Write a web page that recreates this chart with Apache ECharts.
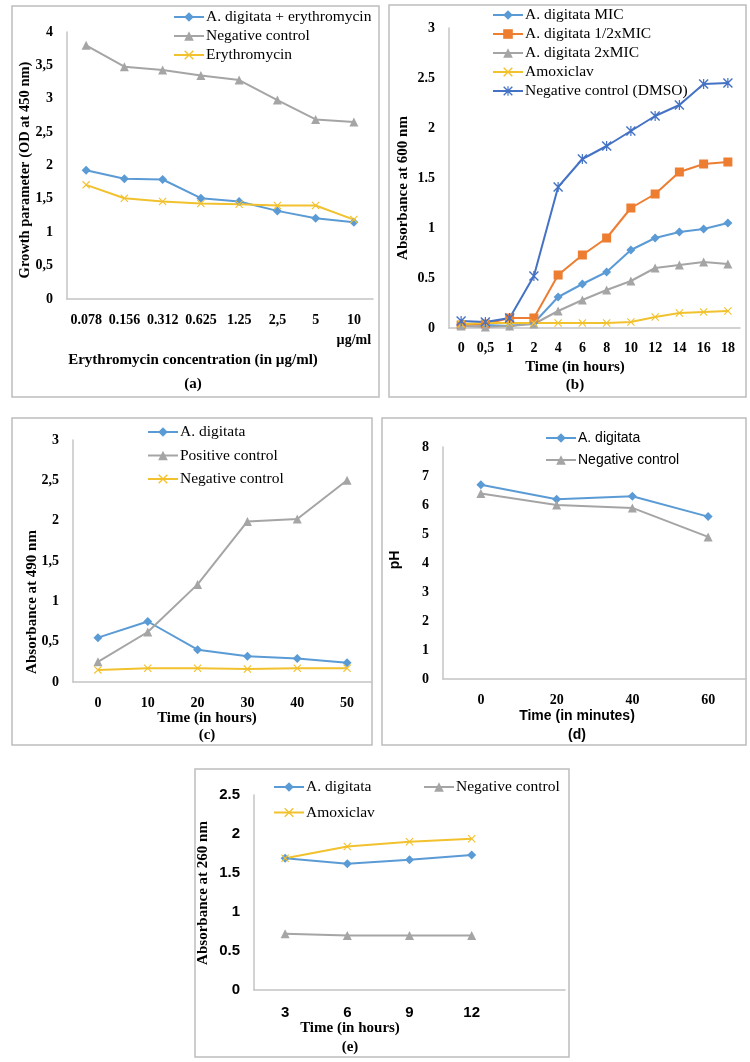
<!DOCTYPE html>
<html>
<head>
<meta charset="utf-8">
<script src="https://cdn.jsdelivr.net/npm/echarts@6/dist/echarts.min.js"></script>
<style>
  body { margin: 0; background: #fff; }
  #chart { width: 750px; height: 1062px; }
</style>
</head>
<body>
<div id="chart"></div>
<script>
// (a) growth vs erythromycin concentration
const catsA = ['0.078', '0.156', '0.312', '0.625', '1.25', '2,5', '5', '10\nµg/ml'];
const aBlend = [1.93, 1.80, 1.79, 1.51, 1.46, 1.32, 1.21, 1.15];
const aNeg = [3.80, 3.48, 3.43, 3.35, 3.28, 2.98, 2.69, 2.65];
const aEry = [1.71, 1.51, 1.46, 1.43, 1.42, 1.40, 1.40, 1.19];

// (b) absorbance at 600 nm
const catsB = ['0', '0,5', '1', '2', '4', '6', '8', '10', '12', '14', '16', '18'];
const bMic = [0.04, 0.03, 0.02, 0.05, 0.31, 0.44, 0.56, 0.78, 0.90, 0.96, 0.99, 1.05];
const bHalf = [0.03, 0.04, 0.10, 0.10, 0.53, 0.73, 0.90, 1.20, 1.34, 1.56, 1.64, 1.66];
const b2x = [0.02, 0.01, 0.02, 0.04, 0.17, 0.28, 0.38, 0.47, 0.60, 0.63, 0.66, 0.64];
const bAmox = [0.04, 0.05, 0.05, 0.05, 0.05, 0.05, 0.05, 0.06, 0.11, 0.15, 0.16, 0.17];
const bNeg = [0.07, 0.06, 0.10, 0.52, 1.41, 1.69, 1.82, 1.97, 2.12, 2.23, 2.44, 2.45];

// (c) absorbance at 490 nm
const catsC = ['0', '10', '20', '30', '40', '50'];
const cAd = [0.55, 0.75, 0.40, 0.32, 0.29, 0.24];
const cPos = [0.25, 0.62, 1.21, 1.99, 2.02, 2.50];
const cNeg = [0.15, 0.17, 0.17, 0.16, 0.17, 0.17];

// (d) pH
const catsD = ['0', '20', '40', '60'];
const dAd = [6.7, 6.2, 6.3, 5.6];
const dNeg = [6.4, 6.0, 5.9, 4.9];

// (e) absorbance at 260 nm (last category is empty, like the original)
const catsE = ['3', '6', '9', '12', ''];
const eAd = [1.69, 1.62, 1.67, 1.73];
const eNeg = [0.72, 0.70, 0.70, 0.70];
const eAmox = [1.69, 1.84, 1.90, 1.94];

const BLUE = '#5b9bd5', ORANGE = '#ed7d31', GRAY = '#a5a5a5', GOLD = '#f2c12e', NAVY = '#4472c4';
const SERIF = 'Liberation Serif', SANS = 'Liberation Sans';
const AXIS = '#c4c4c4';

const CROSS = 'path://M0,1L1,0L5,4L9,0L10,1L6,5L10,9L9,10L5,6L1,10L0,9L4,5Z';
const STAR = 'path://M0,1L1,0L5,4L9,0L10,1L6,5L10,9L9,10L5,6L1,10L0,9L4,5Z M4.4,0L5.6,0L5.6,10L4.4,10Z';

const comma = v => String(v).replace('.', ',');
// series names repeat between panels, so each panel gets its own tag (zero-width spaces)
const tag = (name, p) => name + '\u200b'.repeat(p);
const untag = name => name.replace(/\u200b/g, '');

function xAxis(idx, data, fam, margin, size) {
  return {
    type: 'category', gridIndex: idx, data: data,
    axisLine: { lineStyle: { color: AXIS, width: 1.5 } },
    axisTick: { show: false },
    axisLabel: { color: '#000', fontFamily: fam || SERIF, fontWeight: 'bold', fontSize: size || 14,
      margin: margin || 11, interval: 0, lineHeight: 20 }
  };
}
function yAxis(idx, max, interval, fmt, fam, size) {
  return {
    type: 'value', gridIndex: idx, min: 0, max: max, interval: interval,
    axisLine: { show: true, lineStyle: { color: AXIS, width: 1.5 } },
    axisTick: { show: false },
    splitLine: { show: false },
    axisLabel: { color: '#000', fontFamily: fam || SERIF, fontWeight: 'bold', fontSize: size || 14,
      margin: 14, formatter: fmt }
  };
}
function line(name, idx, data, color, symbol, size) {
  return {
    name: tag(name, idx), type: 'line', xAxisIndex: idx, yAxisIndex: idx, data: data,
    symbol: symbol, symbolSize: size || 9,
    lineStyle: { color: color, width: 2 },
    itemStyle: { color: color },
    emphasis: { disabled: true }
  };
}
function legend(names, p, left, top, gap, fam, size) {
  return {
    data: names.map(n => tag(n, p)), orient: 'vertical', left: left, top: top, itemGap: gap,
    itemWidth: 30, itemHeight: 12, padding: 0, formatter: untag,
    textStyle: { fontFamily: fam || SERIF, fontSize: size || 15.5, color: '#000', padding: [0, 0, 0, -3] }
  };
}
function txt(s, x, y, opt) {
  opt = opt || {};
  return {
    type: 'text', x: x, y: y, rotation: opt.rot || 0,
    style: { text: s, align: 'center', verticalAlign: 'middle', fill: '#000',
      font: 'bold ' + (opt.size || 15) + 'px "' + (opt.fam || SERIF) + '"' }
  };
}
function frame(x1, y1, x2, y2) {
  return { type: 'rect', shape: { x: x1, y: y1, width: x2 - x1, height: y2 - y1 },
    style: { fill: 'none', stroke: '#bdbdbd', lineWidth: 1.5 } };
}

const V = Math.PI / 2;
const option = {
  animation: false,
  backgroundColor: '#fff',
  grid: [
    { left: 67, top: 32, width: 306, height: 267 },
    { left: 449, top: 28, width: 291, height: 300 },
    { left: 73, top: 440, width: 299, height: 242 },
    { left: 443, top: 447, width: 303, height: 232 },
    { left: 254, top: 795, width: 311, height: 195 }
  ],
  xAxis: [
    xAxis(0, catsA), xAxis(1, catsB, SERIF, 10), xAxis(2, catsC), xAxis(3, catsD), xAxis(4, catsE, SANS, 13, 15)
  ],
  yAxis: [
    yAxis(0, 4, 0.5, comma), yAxis(1, 3, 0.5), yAxis(2, 3, 0.5, comma), yAxis(3, 8, 1), yAxis(4, 2.5, 0.5, null, SANS, 15)
  ],
  legend: [
    legend(['A. digitata + erythromycin', 'Negative control', 'Erythromycin'], 0, 173, 9, 3),
    legend(['A. digitata MIC', 'A. digitata 1/2xMIC', 'A. digitata 2xMIC', 'Amoxiclav', 'Negative control (DMSO)'], 1, 492, 7, 3),
    legend(['A. digitata', 'Positive control', 'Negative control'], 2, 147, 424, 7.5),
    legend(['A. digitata', 'Negative control'], 3, 545, 431, 8, SANS, 14),
    legend(['A. digitata', 'Amoxiclav'], 4, 273, 779, 9.5),
    legend(['Negative control'], 4, 423, 779, 9.5)
  ],
  series: [
    line('A. digitata + erythromycin', 0, aBlend, BLUE, 'diamond'),
    line('Negative control', 0, aNeg, GRAY, 'triangle'),
    line('Erythromycin', 0, aEry, GOLD, CROSS, 8),

    line('A. digitata MIC', 1, bMic, BLUE, 'diamond'),
    line('A. digitata 1/2xMIC', 1, bHalf, ORANGE, 'rect', 9),
    line('A. digitata 2xMIC', 1, b2x, GRAY, 'triangle'),
    line('Amoxiclav', 1, bAmox, GOLD, CROSS, 8),
    line('Negative control (DMSO)', 1, bNeg, NAVY, STAR, 10),

    line('A. digitata', 2, cAd, BLUE, 'diamond'),
    line('Positive control', 2, cPos, GRAY, 'triangle'),
    line('Negative control', 2, cNeg, GOLD, CROSS, 8),

    line('A. digitata', 3, dAd, BLUE, 'diamond'),
    line('Negative control', 3, dNeg, GRAY, 'triangle'),

    line('A. digitata', 4, eAd, BLUE, 'diamond'),
    line('Negative control', 4, eNeg, GRAY, 'triangle'),
    line('Amoxiclav', 4, eAmox, GOLD, CROSS, 8)
  ],
  graphic: [
    frame(12, 6, 379, 397),
    frame(389, 5, 746, 397),
    frame(12, 418, 372, 745),
    frame(382, 418, 746, 745),
    frame(195, 769, 569, 1057),

    txt('Growth parameter (OD at 450 nm)', 25, 170, { rot: V, size: 14.5 }),
    txt('Erythromycin concentration (in µg/ml)', 193, 360),
    txt('(a)', 193, 384),

    txt('Absorbance at 600 nm', 403, 188, { rot: V }),
    txt('Time (in hours)', 575, 367),
    txt('(b)', 575, 385),

    txt('Absorbance at 490 nm', 32, 602, { rot: V }),
    txt('Time (in hours)', 207, 718),
    txt('(c)', 207, 735),

    txt('pH', 395, 560, { rot: V, fam: SANS, size: 14 }),
    txt('Time (in minutes)', 577, 716, { fam: SANS, size: 14 }),
    txt('(d)', 577, 735, { fam: SANS, size: 14 }),

    txt('Absorbance at 260 nm', 203, 893, { rot: V }),
    txt('Time (in hours)', 350, 1028),
    txt('(e)', 350, 1047)
  ]
};

const myChart = echarts.init(document.getElementById('chart'));
myChart.setOption(option);
</script>
</body>
</html>
